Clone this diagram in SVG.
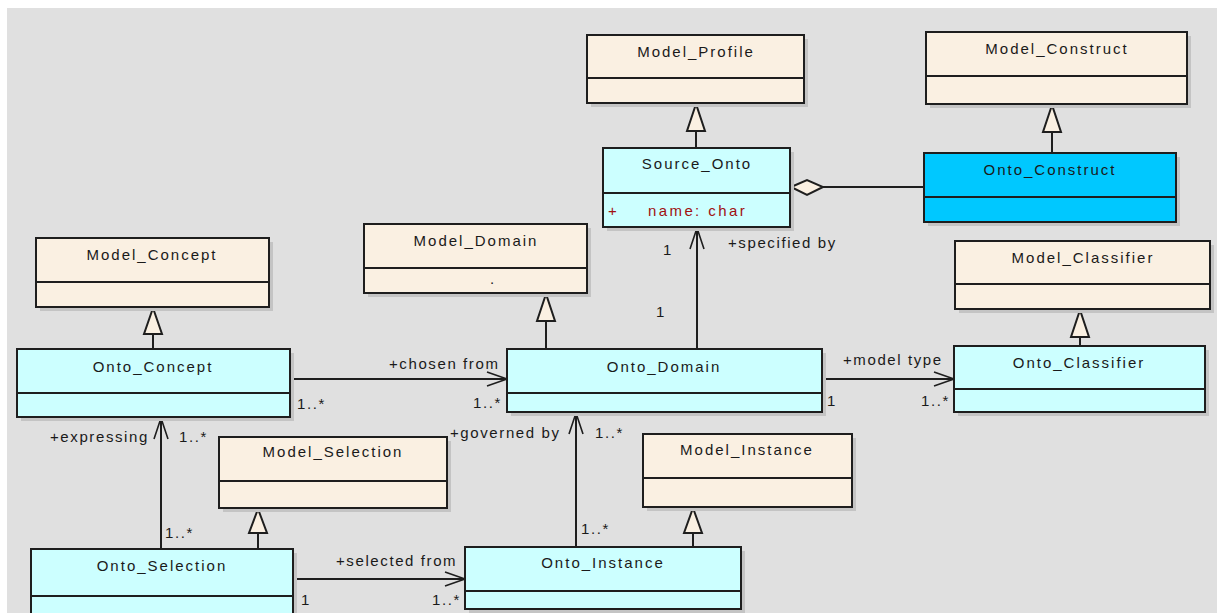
<svg xmlns="http://www.w3.org/2000/svg" width="1217" height="613" viewBox="0 0 1217 613">
  <style>
    .shadow { fill: #c4c4c4; }
    .box { stroke: #1e1e1e; stroke-width: 2; }
    .model { fill: #faf0e2; }
    .onto { fill: #ccffff; }
    .hot { fill: #00c8ff; }
    .div { stroke: #1e1e1e; stroke-width: 2; }
    .title { font-family: "Liberation Sans", Arial, sans-serif; font-size: 15px; letter-spacing: 2px; fill: #1a1a1a; text-anchor: middle; }
    .lbl { font-family: "Liberation Sans", Arial, sans-serif; font-size: 15px; letter-spacing: 1.6px; fill: #1a1a1a; }
    .attr { font-family: "Liberation Sans", Arial, sans-serif; font-size: 15px; letter-spacing: 2.4px; fill: #a01010; }
    .line { stroke: #1e1e1e; stroke-width: 2; fill: none; }
    .open { stroke: #1e1e1e; stroke-width: 1.6; fill: none; }
    .tri { stroke: #1e1e1e; stroke-width: 2; fill: #faf0e2; stroke-linejoin: miter; }
  </style>

  <!-- canvas -->
  <rect x="7" y="8" width="1210" height="605" fill="#e0e0e0"/>

  <!-- connectors -->
  <g id="connectors">
    <!-- generalizations -->
    <line class="line" x1="696" y1="131" x2="696" y2="148"/>
    <polygon class="tri" points="696,104 687,131 705,131"/>
    <line class="line" x1="1052" y1="132" x2="1052" y2="153"/>
    <polygon class="tri" points="1052,105 1043,132 1061,132"/>
    <line class="line" x1="153" y1="334" x2="153" y2="349"/>
    <polygon class="tri" points="153,308 144,334 162,334"/>
    <line class="line" x1="546" y1="321" x2="546" y2="349"/>
    <polygon class="tri" points="546,294 537,321 555,321"/>
    <line class="line" x1="1080" y1="337" x2="1080" y2="346"/>
    <polygon class="tri" points="1080,310 1071,337 1089,337"/>
    <line class="line" x1="258" y1="533" x2="258" y2="549"/>
    <polygon class="tri" points="258,509 249,533 267,533"/>
    <line class="line" x1="693" y1="533" x2="693" y2="547"/>
    <polygon class="tri" points="693,508 684,533 702,533"/>

    <!-- aggregation Source_Onto <>— Onto_Construct -->
    <line class="line" x1="823" y1="187" x2="924" y2="187"/>
    <polygon class="tri" points="791,187 807,180 823,187 807,195"/>

    <!-- Onto_Domain -> Source_Onto -->
    <line class="line" x1="697" y1="349" x2="697" y2="228"/>
    <polyline class="open" points="690,249 697,228 704,249"/>
    <!-- Onto_Domain -> Onto_Classifier -->
    <line class="line" x1="822" y1="379" x2="954" y2="379"/>
    <polyline class="open" points="934,372 954,379 934,386"/>
    <!-- Onto_Concept -> Onto_Domain -->
    <line class="line" x1="290" y1="379" x2="507" y2="379"/>
    <polyline class="open" points="487,372 507,379 487,386"/>
    <!-- Onto_Selection -> Onto_Concept -->
    <line class="line" x1="161" y1="549" x2="161" y2="418"/>
    <polyline class="open" points="154,439 161,418 168,439"/>
    <!-- Onto_Instance -> Onto_Domain -->
    <line class="line" x1="576" y1="547" x2="576" y2="413"/>
    <polyline class="open" points="569,434 576,413 583,434"/>
    <!-- Onto_Selection -> Onto_Instance -->
    <line class="line" x1="293" y1="579" x2="465" y2="579"/>
    <polyline class="open" points="445,572 465,579 445,586"/>

    <!-- role names and multiplicities -->
    <text class="lbl" x="728" y="248">+specified by</text>
    <text class="lbl" x="663" y="255">1</text>
    <text class="lbl" x="656" y="317">1</text>
    <text class="lbl" x="843" y="365">+model type</text>
    <text class="lbl" x="827" y="406">1</text>
    <text class="lbl" x="921" y="406">1..*</text>
    <text class="lbl" x="389" y="369">+chosen from</text>
    <text class="lbl" x="297" y="409">1..*</text>
    <text class="lbl" x="473" y="408">1..*</text>
    <text class="lbl" x="50" y="442">+expressing</text>
    <text class="lbl" x="179" y="442">1..*</text>
    <text class="lbl" x="165" y="538">1..*</text>
    <text class="lbl" x="450" y="438">+governed by</text>
    <text class="lbl" x="595" y="438">1..*</text>
    <text class="lbl" x="581" y="534">1..*</text>
    <text class="lbl" x="336" y="566">+selected from</text>
    <text class="lbl" x="301" y="605">1</text>
    <text class="lbl" x="432" y="605">1..*</text>
  </g>

  <!-- classes -->
  <g id="Model_Profile">
    <rect class="shadow" x="591" y="39" width="217" height="68"/>
    <rect class="box model" x="587" y="35" width="217" height="68"/>
    <line class="div" x1="587" y1="78" x2="804" y2="78"/>
    <text class="title" x="696" y="57">Model_Profile</text>
  </g>

  <g id="Source_Onto">
    <rect class="shadow" x="607" y="152" width="187" height="79"/>
    <rect class="box onto" x="603" y="148" width="187" height="79"/>
    <line class="div" x1="603" y1="193" x2="790" y2="193"/>
    <text class="title" x="697" y="169">Source_Onto</text>
    <text class="attr" x="608" y="216">+</text>
    <text class="attr" x="648" y="216">name: char</text>
  </g>

  <g id="Model_Construct">
    <rect class="shadow" x="930" y="36" width="261" height="72"/>
    <rect class="box model" x="926" y="32" width="261" height="72"/>
    <line class="div" x1="926" y1="76" x2="1187" y2="76"/>
    <text class="title" x="1057" y="54">Model_Construct</text>
  </g>

  <g id="Onto_Construct">
    <rect class="shadow" x="928" y="157" width="252" height="69"/>
    <rect class="box hot" x="924" y="153" width="252" height="69"/>
    <line class="div" x1="924" y1="197" x2="1176" y2="197"/>
    <text class="title" x="1050" y="175">Onto_Construct</text>
  </g>

  <g id="Model_Concept">
    <rect class="shadow" x="40" y="242" width="233" height="69"/>
    <rect class="box model" x="36" y="238" width="233" height="69"/>
    <line class="div" x1="36" y1="282" x2="269" y2="282"/>
    <text class="title" x="152" y="260">Model_Concept</text>
  </g>

  <g id="Onto_Concept">
    <rect class="shadow" x="21" y="353" width="273" height="68"/>
    <rect class="box onto" x="17" y="349" width="273" height="68"/>
    <line class="div" x1="17" y1="393" x2="290" y2="393"/>
    <text class="title" x="153" y="372">Onto_Concept</text>
  </g>

  <g id="Model_Domain">
    <rect class="shadow" x="368" y="228" width="223" height="69"/>
    <rect class="box model" x="364" y="224" width="223" height="69"/>
    <line class="div" x1="364" y1="268" x2="587" y2="268"/>
    <text class="title" x="476" y="246">Model_Domain</text>
    <text class="lbl" x="490" y="284">.</text>
  </g>

  <g id="Onto_Domain">
    <rect class="shadow" x="511" y="353" width="315" height="63"/>
    <rect class="box onto" x="507" y="349" width="315" height="63"/>
    <line class="div" x1="507" y1="393" x2="822" y2="393"/>
    <text class="title" x="664" y="372">Onto_Domain</text>
  </g>

  <g id="Model_Classifier">
    <rect class="shadow" x="959" y="245" width="255" height="68"/>
    <rect class="box model" x="955" y="241" width="255" height="68"/>
    <line class="div" x1="955" y1="284" x2="1210" y2="284"/>
    <text class="title" x="1083" y="263">Model_Classifier</text>
  </g>

  <g id="Onto_Classifier">
    <rect class="shadow" x="958" y="350" width="251" height="66"/>
    <rect class="box onto" x="954" y="346" width="251" height="66"/>
    <line class="div" x1="954" y1="389" x2="1205" y2="389"/>
    <text class="title" x="1079" y="368">Onto_Classifier</text>
  </g>

  <g id="Model_Selection">
    <rect class="shadow" x="223" y="441" width="228" height="71"/>
    <rect class="box model" x="219" y="437" width="228" height="71"/>
    <line class="div" x1="219" y1="481" x2="447" y2="481"/>
    <text class="title" x="333" y="457">Model_Selection</text>
  </g>

  <g id="Onto_Selection">
    <rect class="shadow" x="35" y="553" width="262" height="70"/>
    <rect class="box onto" x="31" y="549" width="262" height="70"/>
    <line class="div" x1="31" y1="596" x2="293" y2="596"/>
    <text class="title" x="162" y="571">Onto_Selection</text>
  </g>

  <g id="Model_Instance">
    <rect class="shadow" x="647" y="438" width="209" height="73"/>
    <rect class="box model" x="643" y="434" width="209" height="73"/>
    <line class="div" x1="643" y1="478" x2="852" y2="478"/>
    <text class="title" x="747" y="455">Model_Instance</text>
  </g>

  <g id="Onto_Instance">
    <rect class="shadow" x="469" y="551" width="276" height="62"/>
    <rect class="box onto" x="465" y="547" width="276" height="62"/>
    <line class="div" x1="465" y1="591" x2="741" y2="591"/>
    <text class="title" x="603" y="568">Onto_Instance</text>
  </g>
</svg>
